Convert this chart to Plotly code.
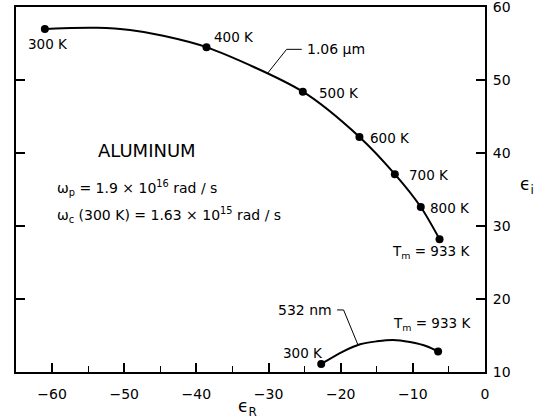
import plotly.graph_objects as go

# 1.06 um curve
t_106 = ["300 K", "400 K", "500 K", "600 K", "700 K", "800 K", "T<sub>m</sub> = 933 K"]
er_106 = [-61.0, -38.6, -25.25, -17.4, -12.5, -8.9, -6.3]
ei_106 = [57.0, 54.5, 48.4, 42.2, 37.1, 32.6, 28.2]
curve_er_106 = [-61.0, -58.5, -53.8, -49.2, -44.6, -38.6, -25.25, -17.4, -12.5, -8.9, -6.3]
curve_ei_106 = [57.0, 57.1, 57.15, 56.85, 56.07, 54.5, 48.4, 42.2, 37.1, 32.6, 28.2]

# 532 nm curve
t_532 = ["300 K", "T<sub>m</sub> = 933 K"]
er_532 = [-22.7, -6.5]
ei_532 = [11.1, 12.8]
curve_er_532 = [-22.7, -19.7, -17.3, -15.0, -12.75, -10.4, -8.0, -6.5]
curve_ei_532 = [11.1, 12.8, 13.8, 14.2, 14.4, 14.1, 13.5, 12.8]

x_ticks = [-60, -50, -40, -30, -20, -10, 0]
y_ticks = [10, 20, 30, 40, 50, 60]

FONT = "DejaVu Sans"
fig = go.Figure()
for cx, cy in [(curve_er_106, curve_ei_106), (curve_er_532, curve_ei_532)]:
    fig.add_trace(go.Scatter(x=cx, y=cy, mode="lines", line=dict(color="black", width=2, shape="spline", smoothing=0.8), hoverinfo="skip"))
for px, py in [(er_106, ei_106), (er_532, ei_532)]:
    fig.add_trace(go.Scatter(x=px, y=py, mode="markers", marker=dict(color="black", size=8)))

# label offsets (pixels) per point
offs_106 = [(3, -15, "center"), (28, 10, "center"), (14, -1, "left"), (9, -1, "left"), (12, -1, "left"), (7, -1, "left"), (-9, -13, "center")]
offs_532 = [(4, 11, "right"), (-6, 28, "center")]
ann = []
for (labels, xs, ys, offs) in [(t_106, er_106, ei_106, offs_106), (t_532, er_532, ei_532, offs_532)]:
    for lab, x, y, (dx, dy, anc) in zip(labels, xs, ys, offs):
        ann.append(dict(x=x, y=y, text=lab, showarrow=False, xshift=dx, yshift=dy, xanchor=anc, yanchor="middle",
                        font=dict(family=FONT, size=13.5, color="black")))

ann += [
    dict(x=-25.0, y=54.2, text="1.06 μm", xanchor="left", showarrow=False, font=dict(family=FONT, size=14, color="black")),
    dict(x=-20.9, y=18.5, text="532 nm", xanchor="right", showarrow=False, font=dict(family=FONT, size=14, color="black")),
    dict(x=-46.9, y=40.4, text="ALUMINUM", xanchor="center", showarrow=False, font=dict(family=FONT, size=18, color="black")),
    dict(x=-59.6, y=35.2, text="ω<sub>p</sub> = 1.9 × 10<sup>16</sup> rad / s", xanchor="left", showarrow=False, font=dict(family=FONT, size=14, color="black")),
    dict(x=-59.6, y=31.5, text="ω<sub>c</sub> (300 K) = 1.63 × 10<sup>15</sup> rad / s", xanchor="left", showarrow=False, font=dict(family=FONT, size=14, color="black")),
    dict(x=247, y=407, xref="paper", yref="paper", text="ϵ<sub>R</sub>", showarrow=False, xanchor="center", yanchor="middle",
         font=dict(family=FONT, size=17, color="black")),
    dict(x=527, y=185, xref="paper", yref="paper", text="ϵ<sub>i</sub>", showarrow=False, xanchor="center", yanchor="middle",
         font=dict(family=FONT, size=17, color="black")),
]
# convert pixel-positioned axis titles to paper coords
L, R, T, B, W, H = 16, 59, 7, 47, 544, 419
pw, ph = W - L - R, H - T - B
for a in ann:
    if a.get("xref") == "paper":
        a["x"] = (a["x"] - L) / pw
        a["y"] = 1 - (a["y"] - T) / ph

shapes = [
    dict(type="path", path="M -30.1 50.96 L -27.5 54.2 L -25.4 54.2", line=dict(color="black", width=1)),
    dict(type="path", path="M -20.5 18.5 L -19.6 18.5 L -17.6 13.7", line=dict(color="black", width=1)),
]

fig.update_layout(
    width=W, height=H, margin=dict(l=L, r=R, t=T, b=B, autoexpand=False),
    paper_bgcolor="white", plot_bgcolor="white", showlegend=False,
    annotations=ann, shapes=shapes,
    xaxis=dict(range=[-65, 0], tickvals=x_ticks, ticktext=["−60", "−50", "−40", "−30", "−20", "−10", "0"],
               ticks="inside", ticklen=9, tickwidth=1.5, tickcolor="black", automargin=False, ticklabelstandoff=8,
               ticklabeloverflow="allow",
               minor=dict(dtick=5, ticks="inside", ticklen=6, tickwidth=1.2, tickcolor="black"),
               showline=True, linecolor="black", linewidth=2, mirror=True, showgrid=False, zeroline=False,
               tickfont=dict(family=FONT, size=14, color="black")),
    yaxis=dict(range=[10, 60], tickvals=y_ticks, side="right",
               ticks="inside", ticklen=9, tickwidth=1.5, tickcolor="black", automargin=False, ticklabelstandoff=3,
               ticklabeloverflow="allow",
               showline=True, linecolor="black", linewidth=2, mirror="ticks", showgrid=False, zeroline=False,
               tickfont=dict(family=FONT, size=14, color="black")),
)
fig.write_html("out.html", config={"displayModeBar": False},
               post_script="document.body.style.margin='0';document.body.style.overflow='hidden';")
